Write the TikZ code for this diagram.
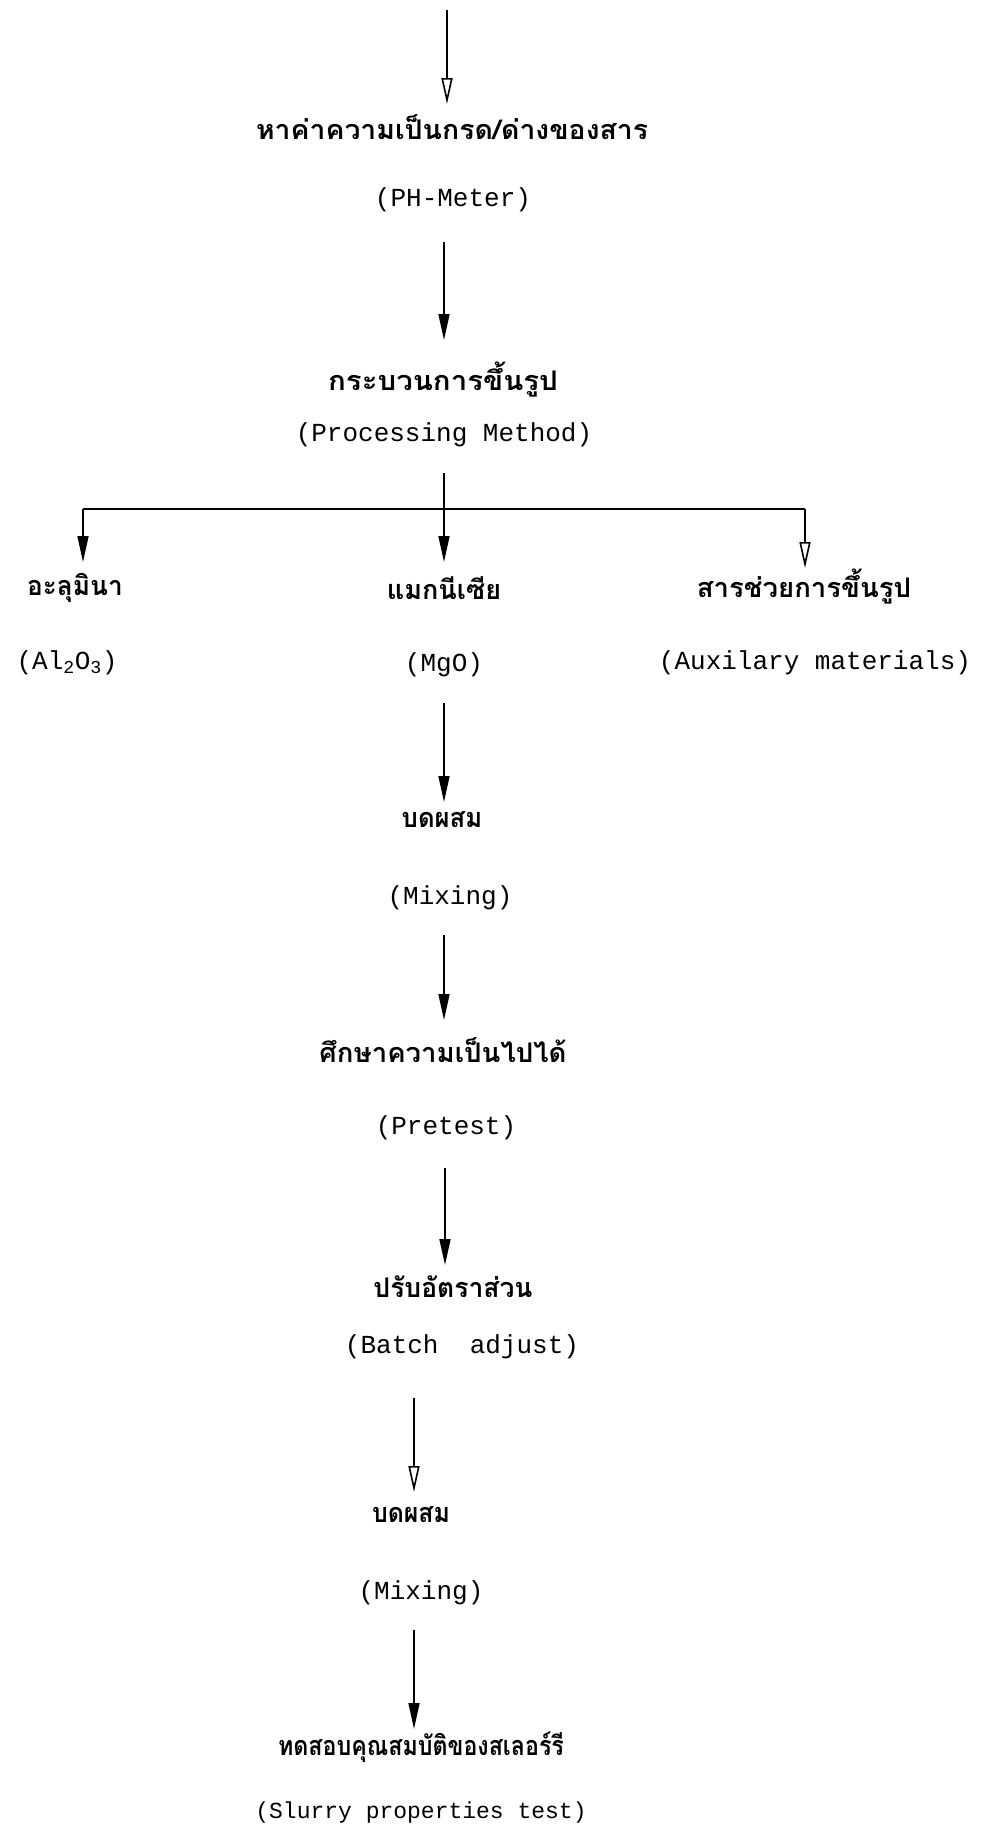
\documentclass[tikz,border=0pt]{standalone}
\usepackage{fontspec}
\setmonofont{Liberation Mono}
\newfontfamily\thai[Script=Thai]{Loma}
\usetikzlibrary{arrows.meta}
\newcommand{\thx}[2]{\scalebox{#1}[1]{#2}}
\tikzset{
  th/.style={font=\thai\bfseries\fontsize{27}{30}\selectfont, inner sep=0pt, anchor=center},
  en/.style={font=\ttfamily\fontsize{26}{30}\selectfont, inner sep=0pt, anchor=center},
  arr/.style={line width=1.6pt, -{Triangle[length=26pt,width=11pt]}},
  arro/.style={line width=1.6pt, -{Triangle[open,length=26pt,width=11pt]}},
  ln/.style={line width=1.6pt}
}
\begin{document}
\begin{tikzpicture}[x=1pt,y=-1pt]
\useasboundingbox (0,0) rectangle (984,1836);
% texts
\node[th] (t1) at (452,127) {\thx{1.05}{หาค่าความเป็นกรด/ด่างของสาร}};
\node[en] (e1) at (453,200) {(PH-Meter)};
\node[th] (t2) at (443,380) {\thx{1.09}{กระบวนการขึ้นรูป}};
\node[en] (e2) at (444,435) {(Processing Method)};
\node[th] (t3a) at (75,588) {\thx{0.97}{อะลุมินา}};
\node[th] (t3b) at (444,588) {แมกนีเซีย};
\node[th] (t3c) at (804,587) {\thx{1.02}{สารช่วยการขึ้นรูป}};
\node[en] (e3a) at (67,663) {(Al\textsubscript{2}O\textsubscript{3})};
\node[en] (e3b) at (444,665) {(MgO)};
\node[en] (e3c) at (815,663) {(Auxilary materials)};
\node[th] (t4) at (442,820) {\thx{0.95}{บดผสม}};
\node[en] (e4) at (450,898) {(Mixing)};
\node[th] (t5) at (443,1050) {\thx{1.02}{ศึกษาความเป็นไปได้}};
\node[en] (e5) at (446,1128) {(Pretest)};
\node[th] (t6) at (453,1287) {\thx{0.98}{ปรับอัตราส่วน}};
\node[en] (e6) at (462,1347) {(Batch\ \ adjust)};
\node[th] (t7) at (411,1515) {\thx{0.92}{บดผสม}};
\node[en] (e7) at (421,1593) {(Mixing)};
\node[th] (t8) at (421,1747) {\thx{0.86}{ทดสอบคุณสมบัติของสเลอร์รี}};
\node[en,font=\ttfamily\fontsize{23}{28}\selectfont] (e8) at (421,1813) {(Slurry properties test)};
% coordinates for arrow ends
\coordinate (a0s) at (447,10);   \coordinate (a0e) at (447,104);
\coordinate (a1s) at (444,242);  \coordinate (a1e) at (444,340);
\coordinate (b0) at (444,473);   \coordinate (bm) at (444,509);
\coordinate (bl) at (83,509);    \coordinate (br) at (805,509);
\coordinate (ble) at (83,562);   \coordinate (bme) at (444,562);
\coordinate (bre) at (805,568);
\coordinate (a2s) at (444,703);  \coordinate (a2e) at (444,802);
\coordinate (a3s) at (444,935);  \coordinate (a3e) at (444,1020);
\coordinate (a4s) at (445,1168); \coordinate (a4e) at (445,1265);
\coordinate (a5s) at (414,1398); \coordinate (a5e) at (414,1492);
\coordinate (a6s) at (414,1630); \coordinate (a6e) at (414,1729);
% connectors
\draw[arro] (a0s) -- (a0e);
\draw[arr] (a1s) -- (a1e);
\draw[ln] (b0) -- (bm);
\draw[ln] (bl) -- (br);
\draw[arr] (bl) -- (ble);
\draw[arr] (bm) -- (bme);
\draw[arro] (br) -- (bre);
\draw[arr] (a2s) -- (a2e);
\draw[arr] (a3s) -- (a3e);
\draw[arr] (a4s) -- (a4e);
\draw[arro] (a5s) -- (a5e);
\draw[arr] (a6s) -- (a6e);
\end{tikzpicture}
\end{document}
